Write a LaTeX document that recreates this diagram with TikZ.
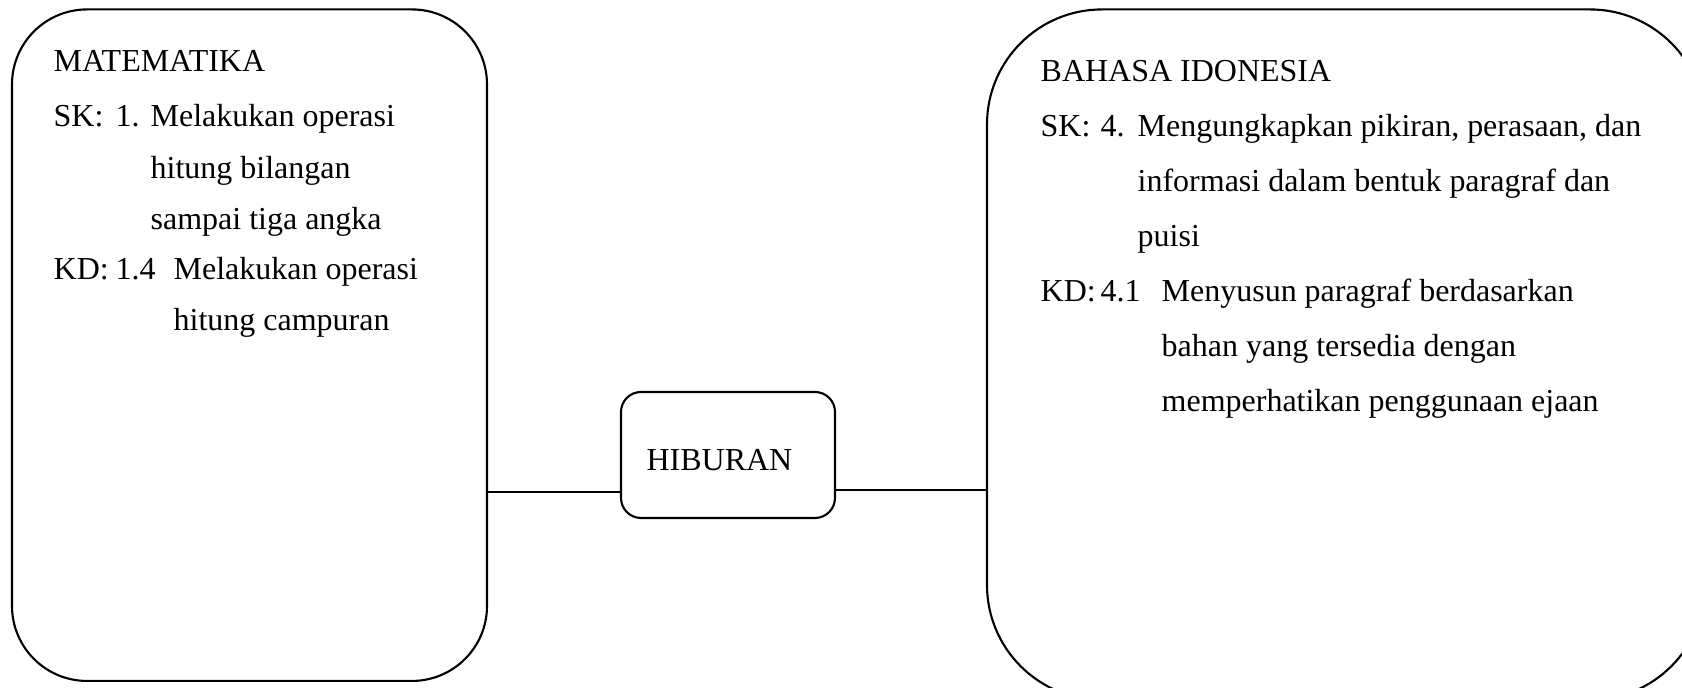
\documentclass[tikz,border=0pt]{standalone}
\usepackage{fontspec}
\setmainfont{Liberation Serif}
\begin{document}
\begin{tikzpicture}[font=\fontsize{9.1pt}{15.6pt}\selectfont,
	kotak/.style={draw,line width=0.6pt,inner sep=0pt,outer sep=0pt},
	teks/.style={anchor=base west,inner sep=0pt}]
	\useasboundingbox (0,0) rectangle (16.82,6.88);
	\node[kotak,rounded corners=0.75cm,minimum width=4.75cm,minimum height=6.715cm] (mat) at (2.495,3.428) {};
	\node[kotak,rounded corners=0.2cm,minimum width=2.14cm,minimum height=1.26cm,text height=0.32cm,text depth=0pt] (hib) at (7.28,2.33) {\hspace*{-0.17cm}HIBURAN};
	\node[kotak,rounded corners=1.15cm,minimum width=7.18cm,minimum height=6.905cm] (bhs) at (13.46,3.333) {};
	\draw[line width=0.6pt] (hib.199) -- (hib.199 -| mat.east);
	\draw[line width=0.6pt] (hib.342) -- (hib.342 -| bhs.west);
	\node[teks] (m0) at (0.53,6.16) {MATEMATIKA};
	\node[teks] (m1) at (0.53,5.61) {SK:};
	\node[teks] (m2) at (1.15,5.61) {1.};
	\node[teks] (m3) at (1.50,5.61) {Melakukan operasi};
	\node[teks] (m4) at (1.50,5.09) {hitung bilangan};
	\node[teks] (m5) at (1.50,4.585) {sampai tiga angka};
	\node[teks] (m6) at (0.53,4.08) {KD:};
	\node[teks] (m7) at (1.15,4.08) {1.4};
	\node[teks] (m8) at (1.73,4.08) {Melakukan operasi};
	\node[teks] (m9) at (1.73,3.57) {hitung campuran};
	\node[teks] (b0) at (10.40,6.06) {BAHASA IDONESIA};
	\node[teks] (b1) at (10.40,5.51) {SK:};
	\node[teks] (b2) at (11.00,5.51) {4.};
	\node[teks] (b3) at (11.37,5.51) {Mengungkapkan pikiran, perasaan, dan};
	\node[teks] (b4) at (11.37,4.96) {informasi dalam bentuk paragraf dan};
	\node[teks] (b5) at (11.37,4.41) {puisi};
	\node[teks] (b6) at (10.40,3.86) {KD:};
	\node[teks] (b7) at (11.00,3.86) {4.1};
	\node[teks] (b8) at (11.61,3.86) {Menyusun paragraf berdasarkan};
	\node[teks] (b9) at (11.61,3.31) {bahan yang tersedia dengan};
	\node[teks] (b10) at (11.61,2.76) {memperhatikan penggunaan ejaan};
\end{tikzpicture}
\end{document}
